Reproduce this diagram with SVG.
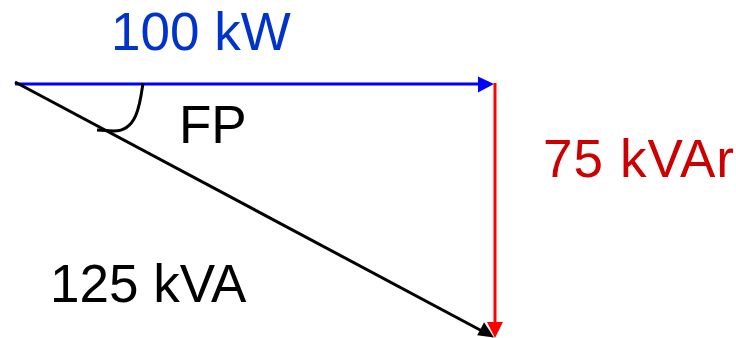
<svg xmlns="http://www.w3.org/2000/svg" width="736" height="338" viewBox="0 0 736 338">
<style>
text{font-family:"Liberation Sans",Arial,sans-serif;font-size:53px}
.ln{fill:none;stroke-width:3}
</style>
<rect width="736" height="338" fill="#fff"/>
<g id="connectors">
<line class="ln" x1="15" y1="84" x2="480" y2="84" stroke="#0000ff"/>
<polygon points="494,84 478,76.5 478,92.5" fill="#0000ff"/>
<line class="ln" x1="495" y1="83" x2="495" y2="324" stroke="#ff0000"/>
<polygon points="495,338 487,322 503,322" fill="#ff0000"/>
<line class="ln" x1="15" y1="82" x2="482" y2="331" stroke="#000"/>
<polygon points="494,337.5 477.2,335.3 484.1,322.3" fill="#000"/>
<path class="ln" d="M143,83 C140,104 137,131 114,131 L97,130" stroke="#000"/>
</g>
<g id="label-p"><text x="111" y="50" fill="#0033cc">100 kW</text></g>
<g id="label-q"><text x="543" y="177" fill="#cc0000" textLength="191" lengthAdjust="spacing">75 kVAr</text></g>
<g id="label-s"><text x="50" y="302" fill="#000">125 kVA</text></g>
<g id="label-fp"><text x="179" y="143" fill="#000">FP</text></g>
</svg>
